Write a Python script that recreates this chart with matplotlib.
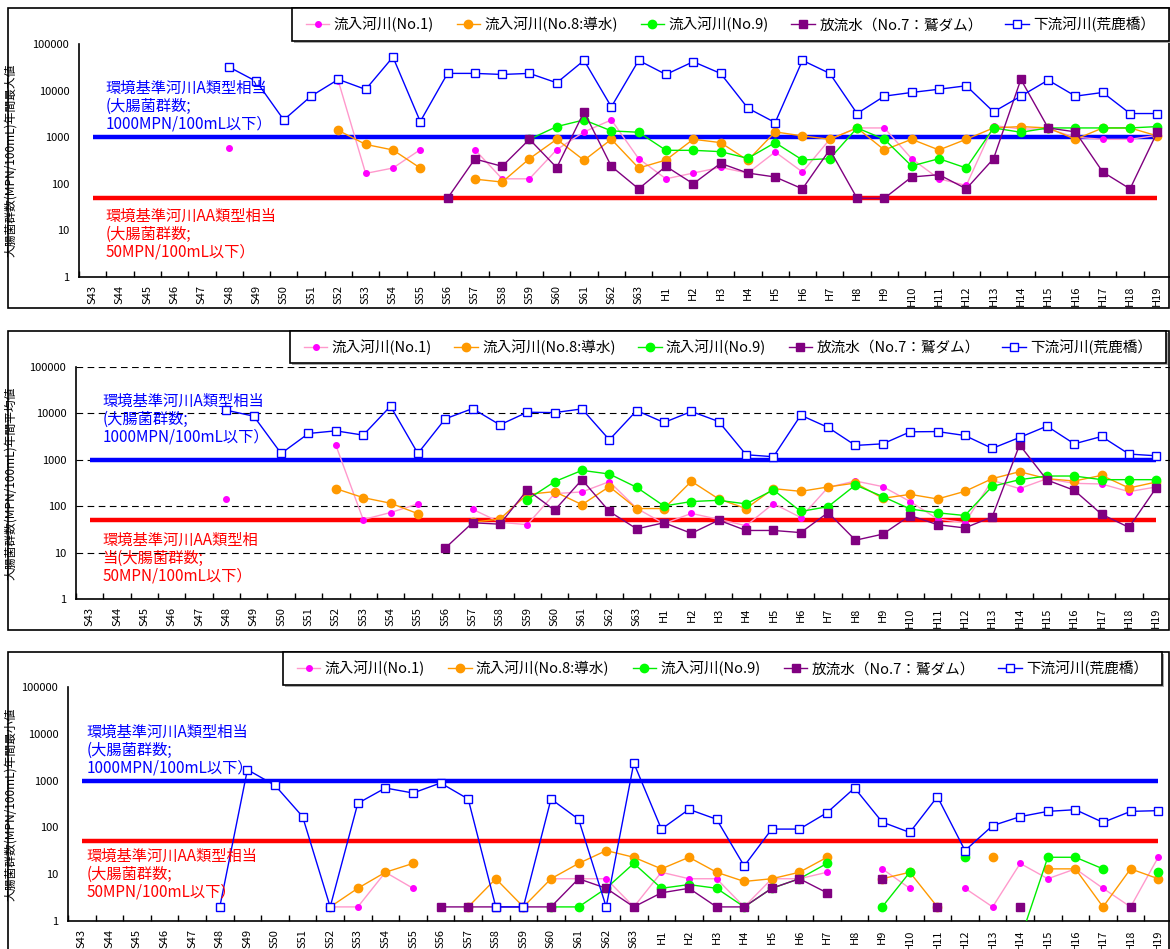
import numpy as np
import matplotlib
matplotlib.use('Agg')
import matplotlib.pyplot as plt
from matplotlib.patches import Rectangle
from matplotlib.ticker import NullLocator

plt.rcParams['font.family'] = ['Noto Sans CJK JP', 'DejaVu Sans']

N = np.nan

years = ['S43', 'S44', 'S45', 'S46', 'S47', 'S48', 'S49', 'S50', 'S51', 'S52',
         'S53', 'S54', 'S55', 'S56', 'S57', 'S58', 'S59', 'S60', 'S61', 'S62',
         'S63', 'H1', 'H2', 'H3', 'H4', 'H5', 'H6', 'H7', 'H8', 'H9',
         'H10', 'H11', 'H12', 'H13', 'H14', 'H15', 'H16', 'H17', 'H18', 'H19']

labels = ['流入河川(No.1)', '流入河川(No.8:導水)', '流入河川(No.9)',
          '放流水（No.7：鷲ダム）', '下流河川(荒鹿橋）']

A_STD = 1000
AA_STD = 50

# ---- 年間最大値
max_no1 = [N, N, N, N, N, 590, N, N, N, 16000, 167, 218, 540, N, 540, 128, 128, 540, 1300, 2350,
           346, 128, 170, 225, 170, 482, 179, 900, 1580, 1580, 346, 128, 92, 1780, 1500, 1500, 1000, 900, 900, 1100]
max_no8 = [N, N, N, N, N, N, N, N, N, 1400, 700, 532, 218, N, 126, 109, 346, 903, 319, 903,
           218, 324, 903, 765, 319, 1300, 1065, 903, 1580, 532, 903, 532, 903, 1580, 1690, 1580, 903, 1580, 1580, 1065]
max_no9 = [N, N, N, N, N, N, N, N, N, N, N, N, N, N, N, N, 903, 1690, 2350, 1365,
           1277, 523, 523, 490, 352, 765, 324, 346, 1580, 903, 241, 346, 218, 1580, 1277, 1580, 1580, 1580, 1580, 1690]
max_no7 = [N, N, N, N, N, N, N, N, N, N, N, N, N, 49, 341, 237, 903, 222, 3500, 237,
           78, 237, 100, 275, 170, 140, 78, 540, 49, 49, 140, 157, 78, 346, 17400, 1580, 1300, 179, 78, 1300]
max_down = [N, N, N, N, N, 32000, 15700, 2350, 7600, 17400, 10600, 52500, 2170, 23400, 23400, 22200, 23400, 14700, 44500, 4480,
            44500, 22200, 41700, 23400, 4200, 2060, 44500, 23400, 3220, 7600, 9120, 10700, 12700, 3500, 7600, 16800, 7600, 9120, 3220, 3220]

# ---- 年間平均値
avg_no1 = [N, N, N, N, N, 143, N, N, N, 2070, 51.5, 73, 112, N, 86, 45, 40, 187, 203, 338,
           90, 42, 70, 52, 38, 114, 57, 255, 349, 264, 126, 53, 44, 361, 239, 392, 311, 301, 206, 260]
avg_no8 = [N, N, N, N, N, N, N, N, N, 239, 153, 116, 69, N, 45, 53, 180, 206, 108, 264,
           89, 89, 344, 143, 89, 239, 209, 260, 316, 148, 180, 143, 209, 392, 554, 392, 349, 462, 247, 332]
avg_no9 = [N, N, N, N, N, N, N, N, N, N, N, N, N, N, N, N, 139, 338, 592, 494,
           255, 101, 126, 134, 112, 224, 77, 98, 286, 161, 87, 72, 63, 268, 373, 447, 447, 373, 373, 373]
avg_no7 = [N, N, N, N, N, N, N, N, N, N, N, N, N, 12.5, 44, 41, 224, 82, 373, 77,
           32.5, 44, 26, 50, 30, 30, 27, 73, 18.5, 25, 63, 40, 34, 59, 2100, 367, 220, 67, 35, 251]
avg_down = [N, N, N, N, N, 11700, 8700, 1370, 3690, 4210, 3400, 14300, 1370, 7630, 12700, 5670, 10600, 10400, 12500, 2700,
            11500, 6370, 11000, 6680, 1285, 1165, 9150, 4970, 2040, 2210, 4010, 4060, 3340, 1760, 3030, 5310, 2210, 3180, 1330, 1220]

# ---- 年間最小値
min_no1 = [N, N, N, N, N, N, N, N, N, 2, 2, 11, 5, N, N, N, N, 8, 8, 8,
           2, 11, 8, 8, 2, 8, 8, 11, N, 13, 5, N, 5, 2, 17, 8, 13, 5, 2, 23]
min_no8 = [N, N, N, N, N, N, N, N, N, 2, 5, 11, 17, N, 2, 8, 2, 8, 17, 32,
           23, 13, 23, 11, 7, 8, 11, 23, N, 8, 11, 2, N, 23, N, 13, 13, 2, 13, 8]
min_no9 = [N, N, N, N, N, N, N, N, N, N, N, N, N, N, N, N, N, 2, 2, 5,
           17, 5, 6, 5, 2, 5, 8, 17, N, 2, 11, N, 23, N, 0.4, 23, 23, 13, N, 11]
min_no7 = [N, N, N, N, N, N, N, N, N, N, N, N, N, 2, 2, 2, 2, 2, 8, 5,
           2, 4, 5, 2, 2, 5, 8, 4, N, 8, N, 2, N, N, 2, N, N, N, 2, N]
min_down = [N, N, N, N, N, 2, 1710, 792, 170, 2, 327, 695, 543, 889, 404, 2, 2, 404, 149, 2,
            2380, 92, 243, 149, 15, 92, 92, 206, 695, 130, 78, 453, 32, 109, 170, 220, 239, 128, 220, 228]

W, H = 1170, 949


def box(x0, y0, x1, y1):
    return [x0 / W, 1 - y1 / H, (x1 - x0) / W, (y1 - y0) / H]


def add_rect(x0, y0, x1, y1, **kw):
    b = box(x0, y0, x1, y1)
    fig.patches.append(Rectangle(b[:2], b[2], b[3], transform=fig.transFigure, **kw))


styles = [
    dict(color='#FF99CC', marker='o', ms=4, mfc='#FF00FF', mec='#FF00FF', lw=1),
    dict(color='#FF9900', marker='o', ms=6, mfc='#FF9900', mec='#FF9900', lw=1),
    dict(color='#00EE00', marker='o', ms=6, mfc='#00FF00', mec='#00FF00', lw=1),
    dict(color='#800080', marker='s', ms=5.5, mfc='#800080', mec='#800080', lw=1),
    dict(color='#0000FF', marker='s', ms=5.5, mfc='white', mec='#0000FF', mew=1, lw=1),
]

fig = plt.figure(figsize=(W / 100, H / 100), dpi=100)

panels = [
    dict(ax=(79, 44, 1171, 277), frame=(8, 8, 1169, 308), leg=(292, 8, 1169, 41),
         data=[max_no1, max_no8, max_no9, max_no7, max_down],
         ylabel='大腸菌群数(MPN/100mL)年間最大値', grid=False,
         ta=(0.024, 0.845), taa=(0.024, 0.296),
         aa_text='環境基準河川AA類型相当\n(大腸菌群数;\n50MPN/100mL以下）'),
    dict(ax=(76, 367, 1170, 599), frame=(8, 331, 1169, 630), leg=(290, 331, 1166, 363),
         data=[avg_no1, avg_no8, avg_no9, avg_no7, avg_down],
         ylabel='大腸菌群数(MPN/100mL)年間平均値', grid=True,
         ta=(0.024, 0.888), taa=(0.024, 0.289),
         aa_text='環境基準河川AA類型相\n当(大腸菌群数;\n50MPN/100mL以下）'),
    dict(ax=(68, 687, 1172, 921), frame=(8, 652, 1169, 965), leg=(283, 652, 1162, 685),
         data=[min_no1, min_no8, min_no9, min_no7, min_down],
         ylabel='大腸菌群数(MPN/100mL)年間最小値', grid=False,
         ta=(0.017, 0.842), taa=(0.017, 0.312),
         aa_text='環境基準河川AA類型相当\n(大腸菌群数;\n50MPN/100mL以下）'),
]

x = np.arange(len(years))

for p in panels:
    # outer chart frame and legend box (drawn under the axes)
    add_rect(*p['frame'], fill=False, edgecolor='black', lw=1.2, zorder=-3)
    lx0, ly0, lx1, ly1 = p['leg']
    add_rect(lx0 + 2, ly0 + 2, lx1 + 2, ly1 + 2, facecolor='#AAAAAA', edgecolor='none', zorder=-2)
    add_rect(lx0, ly0, lx1, ly1, facecolor='white', edgecolor='black', lw=1.2, zorder=-1)

    ax = fig.add_axes(box(*p['ax']))
    ax.set_facecolor('none')

    handles = []
    for vals, st in zip(p['data'], styles):
        h, = ax.plot(x, vals, zorder=3, **st)
        handles.append(h)

    ax.hlines(A_STD, x[0], x[-1], colors='#0000FF', lw=3.2, zorder=2)
    ax.hlines(AA_STD, x[0], x[-1], colors='#FF0000', lw=3.2, zorder=2)

    ax.set_yscale('log')
    ax.set_ylim(1, 100000)
    ax.set_xlim(-0.5, len(years) - 0.5)
    ax.set_yticks([1, 10, 100, 1000, 10000, 100000])
    ax.set_yticklabels(['1', '10', '100', '1000', '10000', '100000'], fontsize=8)
    ax.yaxis.set_minor_locator(NullLocator())
    ax.tick_params(axis='y', length=0, pad=7)

    ax.set_xticks(x)
    ax.set_xticklabels(years, rotation=90, fontsize=8)
    ax.set_xticks(np.arange(-0.5, len(years), 1), minor=True)
    ax.tick_params(axis='x', which='major', length=0, pad=6)
    ax.tick_params(axis='x', which='minor', direction='in', length=4, width=1)

    for s in ['top', 'right']:
        ax.spines[s].set_visible(False)
    for s in ['left', 'bottom']:
        ax.spines[s].set_linewidth(1.2)

    if p['grid']:
        ax.grid(axis='y', which='major', color='black', lw=0.8,
                linestyle=(0, (6, 4)), zorder=1)
        ax.set_axisbelow(True)

    ax.set_ylabel(p['ylabel'], fontsize=8.5)
    ax.yaxis.set_label_coords((17 - p['ax'][0]) / (p['ax'][2] - p['ax'][0]), 0.5)

    ax.text(p['ta'][0], p['ta'][1], '環境基準河川A類型相当\n(大腸菌群数;\n1000MPN/100mL以下）',
            transform=ax.transAxes, color='#0000FF', fontsize=11, va='top', ha='left',
            linespacing=1.05, zorder=4)
    ax.text(p['taa'][0], p['taa'][1], p['aa_text'],
            transform=ax.transAxes, color='#FF0000', fontsize=11, va='top', ha='left',
            linespacing=1.05, zorder=4)

    ax.legend(handles, labels, loc='center', ncol=5, mode='expand',
              bbox_to_anchor=box(lx0 + 14, ly0, lx1 - 14, ly1),
              bbox_transform=fig.transFigure, frameon=False, borderpad=0,
              borderaxespad=0, handlelength=1.6, handletextpad=0.3,
              fontsize=10.5)

fig.savefig('out.png', dpi=100)
